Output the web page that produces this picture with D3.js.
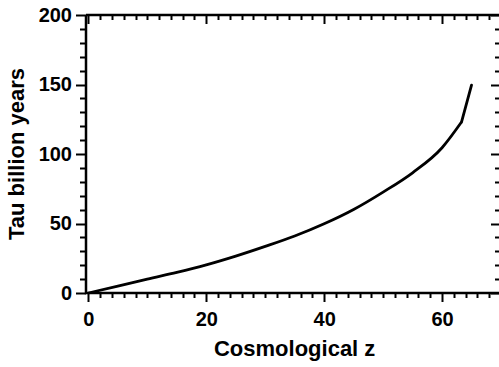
<!DOCTYPE html>
<html>
<head>
<meta charset="utf-8">
<script src="https://cdn.jsdelivr.net/npm/d3@7"></script>
<style>
  html, body { margin: 0; padding: 0; background: #fff; }
  svg { display: block; }
  text { font-family: "Liberation Sans", Arial, sans-serif; font-weight: bold; fill: #000; }
</style>
</head>
<body>
<div id="chart"></div>
<script>
// Lookback time tau (billion years) against cosmological redshift z
const redshift = [0, 5, 10, 15, 20, 25, 30, 35, 40, 45, 50, 55, 60, 63.3];
const tauGyr   = [0, 4.9, 10, 14.8, 20.2, 26.5, 33.5, 41.0, 49.8, 60.1, 72.6, 86.5, 104.5, 123];
// final steep segment of the curve
const tailZ   = [63.3, 65];
const tailTau = [123, 149.6];

const xMajorTicks = [0, 20, 40, 60];
const yMajorTicks = [0, 50, 100, 150, 200];

const W = 499, H = 367;
const svg = d3.select("#chart").append("svg").attr("width", W).attr("height", H);

const x = d3.scaleLinear().domain([-0.4, 70]).range([86, 501]);
const y = d3.scaleLinear().domain([0, 200]).range([293, 15]);

const xMinor = d3.range(0, 71, 2).filter(v => v % 20 !== 0);
const yMinor = d3.range(0, 201, 10).filter(v => v % 50 !== 0);

const x0 = x(-0.4), x1 = x(70), yb = y(0), yt = y(200);

// frame
const frame = svg.append("g").attr("stroke", "#000").attr("fill", "none");
frame.append("path")
  .attr("d", `M${x0},${yt}V${yb}H${x1}M${x0},${yt}H${x1}V${yb}`)
  .attr("stroke-width", 2.5);

// tick marks: [value, length] for each side
const xTicks = xMinor.map(v => [v, 5]).concat(xMajorTicks.map(v => [v, 9]));
const yTicks = yMinor.map(v => [v, 6]).concat(yMajorTicks.map(v => [v, 10]));
const ticks = svg.append("g").attr("stroke", "#000").attr("stroke-width", 2);

// bottom (outward) and top (inward): both point down
[yb, yt].forEach(base => {
  ticks.append("g").selectAll("line").data(xTicks).join("line")
    .attr("x1", d => Math.round(x(d[0])) + 0.5).attr("x2", d => Math.round(x(d[0])) + 0.5)
    .attr("y1", base).attr("y2", d => base + d[1]);
});
// left (outward) and right (inward): both point left
[x0, x1].forEach(base => {
  ticks.append("g").selectAll("line").data(yTicks).join("line")
    .attr("y1", d => Math.round(y(d[0])) + 0.5).attr("y2", d => Math.round(y(d[0])) + 0.5)
    .attr("x1", base).attr("x2", d => base - d[1]);
});

// tick labels
svg.append("g").attr("transform", `translate(0,${yb})`)
  .call(d3.axisBottom(x).tickValues(xMajorTicks).tickSize(9).tickPadding(10).tickFormat(d3.format("d")))
  .call(g => g.select(".domain").remove())
  .call(g => g.selectAll(".tick line").remove())
  .call(g => g.selectAll(".tick text").style("font-size", "20px").attr("font-weight", "bold"));
svg.append("g").attr("transform", `translate(${x0},0)`)
  .call(d3.axisLeft(y).tickValues(yMajorTicks).tickSize(10).tickPadding(4).tickFormat(d3.format("d")))
  .call(g => g.select(".domain").remove())
  .call(g => g.selectAll(".tick line").remove())
  .call(g => g.selectAll(".tick text").style("font-size", "20px").attr("font-weight", "bold"));

// curve
const line = d3.line().x(d => x(d[0])).y(d => y(d[1])).curve(d3.curveMonotoneX);
svg.append("path")
  .datum(redshift.map((z, i) => [z, tauGyr[i]]))
  .attr("d", line)
  .attr("fill", "none").attr("stroke", "#000").attr("stroke-width", 2.8)
  .attr("stroke-linejoin", "round");
svg.append("path")
  .datum(tailZ.map((z, i) => [z, tailTau[i]]))
  .attr("d", d3.line().x(d => x(d[0])).y(d => y(d[1])))
  .attr("fill", "none").attr("stroke", "#000").attr("stroke-width", 2.8)
  .attr("stroke-linecap", "round");

// axis titles
svg.append("text")
  .attr("x", (x(0) + x(70)) / 2).attr("y", 356)
  .attr("text-anchor", "middle").style("font-size", "22px")
  .text("Cosmological z");
svg.append("text")
  .attr("transform", `translate(24,${(y(0) + y(200)) / 2}) rotate(-90)`)
  .attr("text-anchor", "middle").style("font-size", "22px")
  .text("Tau billion years");
</script>
</body>
</html>
